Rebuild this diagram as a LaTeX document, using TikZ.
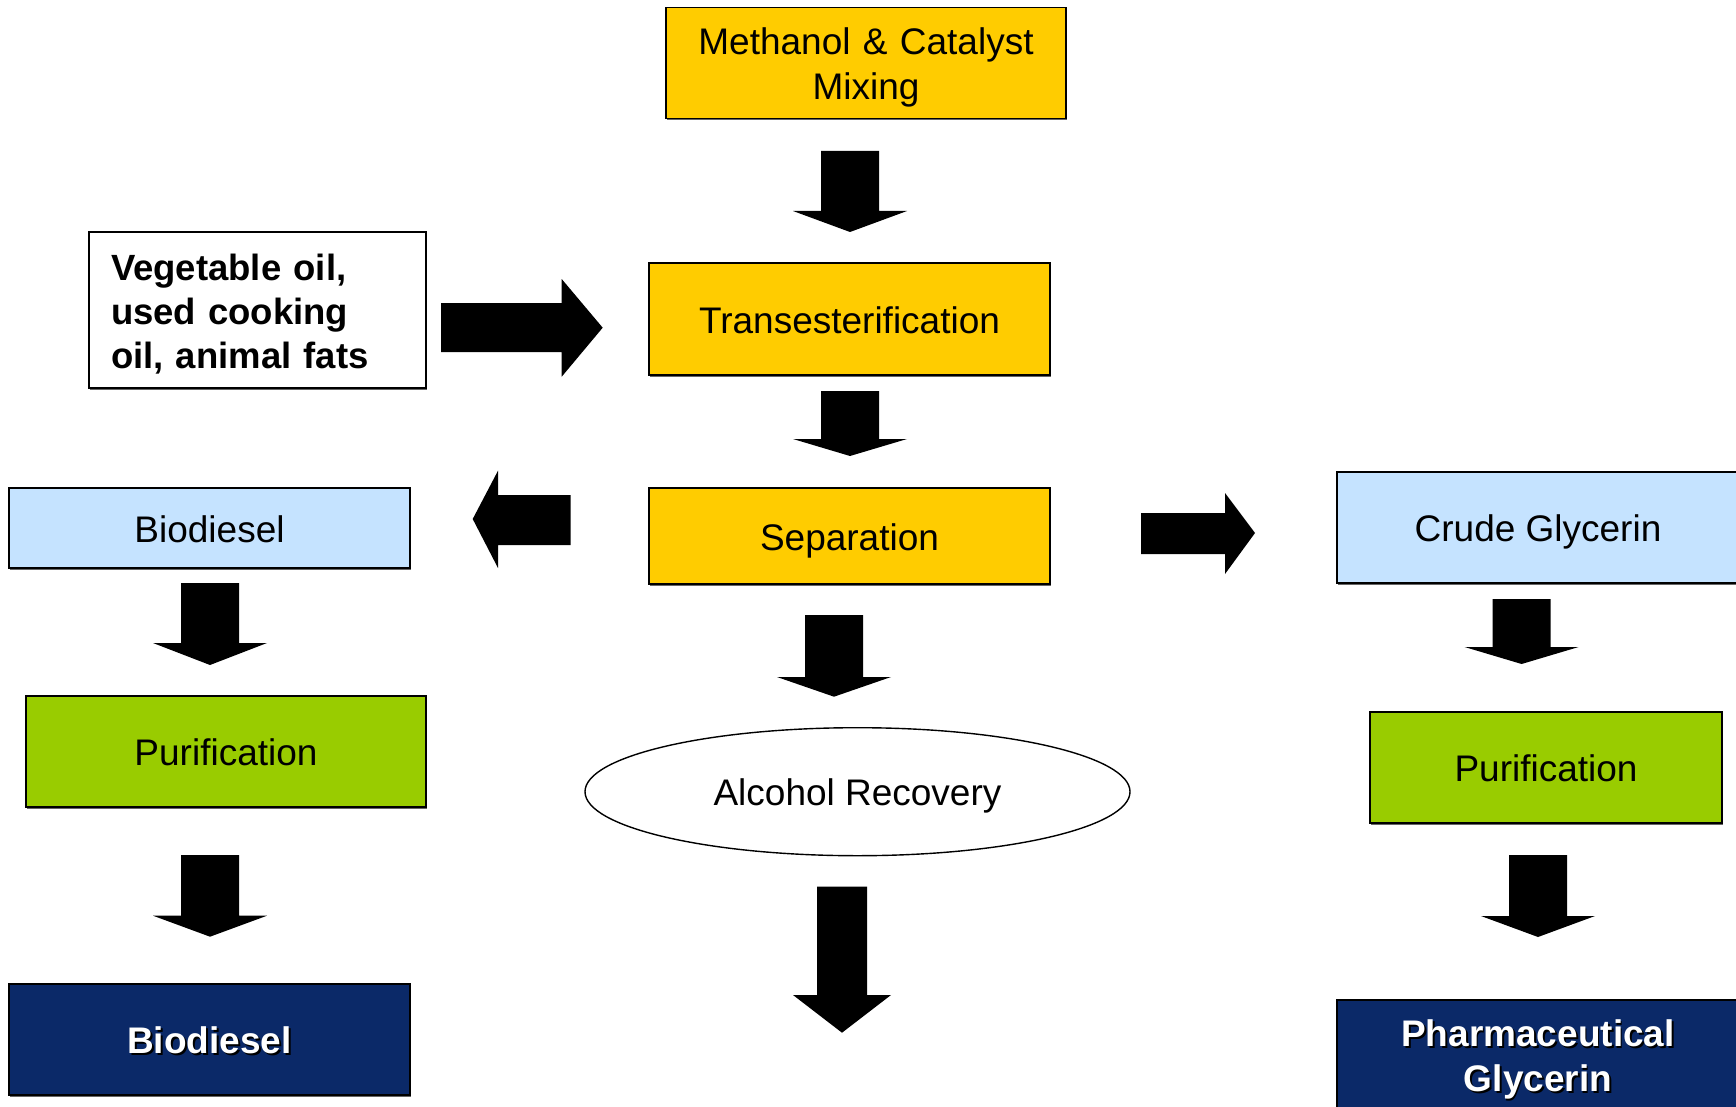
\documentclass[tikz,border=0pt]{standalone}
\usepackage{fontspec}
\setmainfont{Liberation Sans}
\usetikzlibrary{shapes.geometric,shadows}
\definecolor{yel}{RGB}{255,204,0}
\definecolor{lblue}{RGB}{197,227,255}
\definecolor{grn}{RGB}{153,204,0}
\definecolor{navy}{RGB}{11,41,104}
\newcommand{\shtxt}[1]{\leavevmode\rlap{\hspace{1.8pt}\raisebox{-1.8pt}{\color{black}#1}}#1}
\newcommand{\lnstrut}{\rule[-8pt]{0pt}{44pt}}
% down block arrow: cx, top, shaft bottom, tip, half shaft, half head
\newcommand{\darr}[6]{\fill[black] (#1-#5,#2) -- (#1+#5,#2) -- (#1+#5,#3) -- (#1+#6,#3) -- (#1,#4) -- (#1-#6,#3) -- (#1-#5,#3) -- cycle;}
\begin{document}
\begin{tikzpicture}[x=1pt,y=-1pt,
  box/.style={draw=black, line width=1.8pt, inner sep=0pt, align=center,
    font=\fontsize{37}{43}\selectfont,
    execute at begin node=\lnstrut, execute at end node=\lnstrut,
    drop shadow={shadow xshift=0.8pt, shadow yshift=-1.6pt, fill=black!60, opacity=1}},
  ybox/.style={box, fill=yel},
  lbox/.style={box, fill=lblue},
  gbox/.style={box, fill=grn},
  nbox/.style={box, fill=navy, text=white, font=\fontsize{37}{43}\selectfont\bfseries},
]
\clip (0,0) rectangle (1736,1107);
\useasboundingbox (0,0) rectangle (1736,1107);
\fill[white] (0,0) rectangle (1736,1107);

% nodes
\node[ybox, minimum width=400pt, text width=400pt, minimum height=111pt] (mix) at (866,63) {Methanol \& Catalyst\\Mixing};
\node[ybox, minimum width=401pt, minimum height=112pt] (trans) at (849.5,319) {Transesterification};
\node[ybox, minimum width=401pt, minimum height=96pt] (sep) at (849.5,536) {Separation};
\node[box, fill=white, minimum height=156pt, text width=293pt, inner xsep=22pt, align=left,
      font=\fontsize{36.5}{44}\selectfont\bfseries] (veg) at (257.5,310) {Vegetable oil,\\used cooking\\oil, animal fats};
\node[lbox, minimum width=401pt, minimum height=80pt] (bio1) at (209.5,528) {Biodiesel};
\node[gbox, minimum width=400pt, minimum height=111pt] (pur1) at (226,751.5) {Purification};
\node[nbox, minimum width=401pt, minimum height=111pt] (bio2) at (209.5,1039.5) {\shtxt{Biodiesel}};
\node[lbox, minimum width=402pt, minimum height=111pt] (crude) at (1538,527.5) {Crude Glycerin};
\node[gbox, minimum width=352pt, minimum height=111pt] (pur2) at (1546,767.5) {Purification};
\node[nbox, minimum width=402pt, text width=402pt, minimum height=111pt] (pharma) at (1538,1055.5) {\shtxt{Pharmaceutical}\\\shtxt{Glycerin}};
\node[draw=black, line width=1.4pt, fill=white, ellipse, inner sep=0pt,
      minimum width=545pt, minimum height=128pt, font=\fontsize{37}{43}\selectfont,
      execute at begin node=\lnstrut] (alc) at (857.5,791.7) {Alcohol Recovery};

% block arrows (down)
\darr{850}{151}{211}{232}{29}{57}
\darr{850}{391}{439}{456}{29}{57}
\darr{834}{615}{677}{696.7}{29}{57}
\darr{842}{886.7}{995}{1032.7}{25}{49}
\darr{210}{583}{643}{665}{29}{57}
\darr{210}{855}{915.7}{936.7}{29}{57}
\darr{1521.6}{599}{647}{664}{29}{57}
\darr{1538}{855}{916}{937}{29}{57}

% horizontal block arrows
\fill[black] (441,303) -- (561.7,303) -- (561.7,279) -- (602.7,327.7) -- (561.7,376.7) -- (561.7,352) -- (441,352) -- cycle;
\fill[black] (570.7,495) -- (498,495) -- (498,470.7) -- (472.7,519) -- (498,568) -- (498,545) -- (570.7,545) -- cycle;
\fill[black] (1141,513) -- (1225,513) -- (1225,493) -- (1255,533) -- (1225,574) -- (1225,554) -- (1141,554) -- cycle;
\end{tikzpicture}
\end{document}
